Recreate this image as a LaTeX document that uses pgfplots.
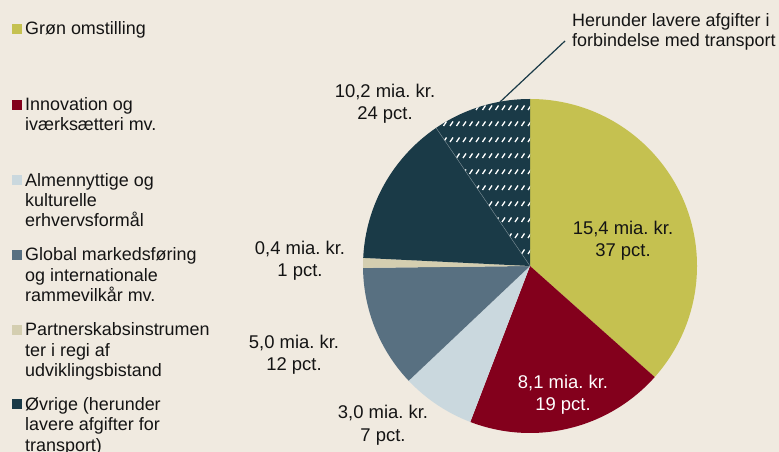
\documentclass[border=0pt]{standalone}
\usepackage{pgfplots}
\pgfplotsset{compat=1.18}
\usepackage{pgfplotstable}
\usepackage{fontspec}
\setmainfont{Liberation Sans}
\usetikzlibrary{patterns}

\definecolor{bg}{HTML}{F0EAE0}
\definecolor{cgreen}{HTML}{C5C150}
\definecolor{cred}{HTML}{83001C}
\definecolor{clight}{HTML}{CAD8DE}
\definecolor{csteel}{HTML}{587081}
\definecolor{ctan}{HTML}{D4CEB0}
\definecolor{cnavy}{HTML}{1A3A47}
\definecolor{txt}{HTML}{141414}

\pgfdeclarepatternformonly{dashhatch}{\pgfpoint{-1bp}{-1bp}}{\pgfpoint{7.5bp}{17bp}}{\pgfpoint{6.5bp}{16bp}}{%
  \pgfsetlinewidth{1.3bp}%
  \pgfpathmoveto{\pgfpoint{1.5bp}{6bp}}%
  \pgfpathlineto{\pgfpoint{4.5bp}{10.5bp}}%
  \pgfusepath{stroke}%
}

% mia. kr.
\pgfplotstableread{
name value
gron 15.4
innov 8.1
almen 3.0
global 5.0
partner 0.4
ovrige 10.2
}\piedata
% part of "ovrige"
\pgfplotstableread{
name value
transport 4.0
}\subdata

\newcommand\slice[3]{\fill[#1] (axis cs:530,186) -- +(#2:167bp) arc[start angle=#2, end angle=#3, radius=167bp] -- cycle;}
\newcommand\lsq[2]{\fill[#1] (axis cs:12,#2) rectangle (axis cs:22,#2+10);}
\newcommand\lline[2]{\node[anchor=base west, inner sep=0pt, text=txt, font=\fontsize{18}{20}\selectfont] at (axis cs:25,#1) {#2};}
\newcommand\plab[4]{\node[anchor=base, inner sep=0pt, text=#4, font=\fontsize{18.5}{22}\selectfont] at (axis cs:#1,#2) {#3};}

\begin{document}
\frenchspacing
\begin{tikzpicture}
\pgfplotstablegetelem{0}{value}\of\piedata \pgfmathsetmacro\vA{\pgfplotsretval}
\pgfplotstablegetelem{1}{value}\of\piedata \pgfmathsetmacro\vB{\pgfplotsretval}
\pgfplotstablegetelem{2}{value}\of\piedata \pgfmathsetmacro\vC{\pgfplotsretval}
\pgfplotstablegetelem{3}{value}\of\piedata \pgfmathsetmacro\vD{\pgfplotsretval}
\pgfplotstablegetelem{4}{value}\of\piedata \pgfmathsetmacro\vE{\pgfplotsretval}
\pgfplotstablegetelem{5}{value}\of\piedata \pgfmathsetmacro\vF{\pgfplotsretval}
\pgfplotstablegetelem{0}{value}\of\subdata \pgfmathsetmacro\vT{\pgfplotsretval}
\pgfmathsetmacro\total{\vA+\vB+\vC+\vD+\vE+\vF}
\pgfmathsetmacro\aA{90-360*\vA/\total}
\pgfmathsetmacro\aB{\aA-360*\vB/\total}
\pgfmathsetmacro\aC{\aB-360*\vC/\total}
\pgfmathsetmacro\aD{\aC-360*\vD/\total}
\pgfmathsetmacro\aE{\aD-360*\vE/\total}
\pgfmathsetmacro\aF{\aE-360*\vF/\total}
\pgfmathsetmacro\aT{\aF+360*\vT/\total}
\begin{axis}[
  width=779bp, height=452bp, scale only axis,
  xmin=0, xmax=779, ymin=0, ymax=452,
  hide axis, clip=false,
]
  \fill[bg] (axis cs:0,0) rectangle (axis cs:779,452);
  \coordinate (sw) at (axis cs:0,0);
  \coordinate (ne) at (axis cs:779,452);
  % pie
  \slice{cgreen}{90}{\aA}
  \slice{cred}{\aA}{\aB}
  \slice{clight}{\aB}{\aC}
  \slice{csteel}{\aC}{\aD}
  \slice{ctan}{\aD}{\aE}
  \slice{cnavy}{\aE}{\aF}
  \fill[pattern=dashhatch, pattern color=white] (axis cs:530,186) -- +(\aT:167bp) arc[start angle=\aT, end angle=\aF, radius=167bp] -- cycle;
  \draw[cnavy!55!white, line width=0.4bp] (axis cs:530,186) -- +(\aT:167bp);
  \draw[cnavy, line width=1.2bp] (axis cs:500,350) -- (axis cs:565,411);
  % pie labels
  \plab{623}{217.5}{15,4 mia. kr.}{txt}
  \plab{623}{195.5}{37 pct.}{txt}
  \plab{563}{63.5}{8,1 mia. kr.}{white}
  \plab{563}{41.5}{19 pct.}{white}
  \plab{383}{33}{3,0 mia. kr.}{txt}
  \plab{383}{10.5}{7 pct.}{txt}
  \plab{294}{103.5}{5,0 mia. kr.}{txt}
  \plab{294}{81}{12 pct.}{txt}
  \plab{300}{197.5}{0,4 mia. kr.}{txt}
  \plab{300}{175.5}{1 pct.}{txt}
  \plab{385}{354.5}{10,2 mia. kr.}{txt}
  \plab{385}{332.5}{24 pct.}{txt}
  \node[anchor=base west, inner sep=0pt, text=txt, font=\fontsize{18}{20}\selectfont] at (axis cs:572,425.5) {Herunder lavere afgifter i};
  \node[anchor=base west, inner sep=0pt, text=txt, font=\fontsize{18}{20}\selectfont] at (axis cs:572,405.5) {forbindelse med transport};
  % legend
  \lsq{cgreen}{418}
  \lline{417}{Grøn omstilling}
  \lsq{cred}{342}
  \lline{341}{Innovation og}
  \lline{321}{iværksætteri mv.}
  \lsq{clight}{266.5}
  \lline{265.5}{Almennyttige og}
  \lline{245.5}{kulturelle}
  \lline{225.5}{erhvervsformål}
  \lsq{csteel}{192}
  \lline{191}{Global markedsføring}
  \lline{170.5}{og internationale}
  \lline{150}{rammevilkår mv.}
  \lsq{ctan}{117}
  \lline{116}{Partnerskabsinstrumen}
  \lline{95.5}{ter i regi af}
  \lline{75}{udviklingsbistand}
  \lsq{cnavy}{42.5}
  \lline{41.5}{Øvrige (herunder}
  \lline{21}{lavere afgifter for}
  \lline{0.5}{transport)}
\end{axis}
\pgfresetboundingbox
\useasboundingbox (sw) rectangle (ne);
\end{tikzpicture}
\end{document}
